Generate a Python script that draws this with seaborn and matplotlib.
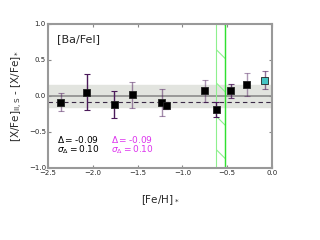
import numpy as np
import pandas as pd
import matplotlib
matplotlib.use('Agg')
import matplotlib.pyplot as plt
import seaborn as sns

sns.set_style('ticks')
plt.rcParams['font.family'] = ['DejaVu Sans']
plt.rcParams['hatch.color'] = '#7ee87e'
plt.rcParams['hatch.linewidth'] = 0.8

# data
feh = [-2.36, -2.07, -1.76, -1.56, -1.23, -1.18, -0.75, -0.62, -0.46, -0.28, -0.08]
dx = [-0.09, 0.05, -0.12, 0.02, -0.09, -0.13, 0.07, -0.19, 0.07, 0.16, 0.22]
err = [0.125, 0.25, 0.19, 0.18, 0.19, 0.05, 0.15, 0.10, 0.095, 0.155, 0.125]
err_alpha = [0.5, 1.0, 1.0, 0.5, 0.5, 0.9, 0.45, 1.0, 0.8, 0.45, 0.6]
kind = ['star'] * 10 + ['sun']

mean_d = -0.09
sigma_d = 0.10

df = pd.DataFrame({'feh': feh, 'dx': dx, 'err': err, 'kind': kind})

fig, ax = plt.subplots(figsize=(3.2, 2.4), dpi=100)
fig.subplots_adjust(left=0.15, right=0.85, top=0.9, bottom=0.3)

ax.axhspan(-0.15, 0.15, color='#e2e4df', zorder=0)
ax.axhline(0, color='#8c8c8c', lw=1.2, zorder=1)
ax.axhline(mean_d, color='#3a2a45', lw=0.8, ls=(0, (4, 3)), zorder=1)

ax.axvspan(-0.62, -0.52, facecolor='none', edgecolor='#8ef08e', hatch='\\', lw=0.8, zorder=1)
ax.axvline(-0.52, color='#30e030', lw=1.0, zorder=1)

for x, y, e, a in zip(feh, dx, err, err_alpha):
    ax.errorbar(x, y, yerr=e, fmt='none', ecolor='#4b1a5a', alpha=a,
                elinewidth=1.0, capsize=2, capthick=0.8, zorder=2)

sns.scatterplot(data=df, x='feh', y='dx', hue='kind', marker='s', s=25,
                palette={'star': 'black', 'sun': '#45c4c4'},
                edgecolor='#222222', linewidth=0.6, legend=False, zorder=3, ax=ax)

ax.set_xlim(-2.5, 0.0)
ax.set_ylim(-1.0, 1.0)
ax.set_xticks([-2.5, -2.0, -1.5, -1.0, -0.5, 0.0])
ax.set_yticks([-1.0, -0.5, 0.0, 0.5, 1.0])
ax.tick_params(direction='in', top=True, right=True, labelsize=5, length=2,
               color='#888888', width=0.8, pad=1.5)
for sp in ax.spines.values():
    sp.set_color('#999999')
    sp.set_linewidth(1.5)

ax.set_xlabel(r'[Fe/H]$_*$', fontsize=7.5, labelpad=12)
ax.set_ylabel(r'[X/Fe]$_{\rm II,S}$ - [X/Fe]$_*$', fontsize=7.5, labelpad=3)

ax.text(0.04, 0.93, '[Ba/FeI]', transform=ax.transAxes, fontsize=8, va='top')
ax.text(0.04, 0.2, r'$\Delta=$-0.09', transform=ax.transAxes, fontsize=6.5,
        color='black', va='center')
ax.text(0.04, 0.125, r'$\sigma_\Delta=$0.10', transform=ax.transAxes, fontsize=6.5,
        color='black', va='center')
ax.text(0.28, 0.2, r'$\Delta=$-0.09', transform=ax.transAxes, fontsize=6.5,
        color='#dd33ee', va='center')
ax.text(0.28, 0.125, r'$\sigma_\Delta=$0.10', transform=ax.transAxes, fontsize=6.5,
        color='#dd33ee', va='center')

fig.savefig('out.png', dpi=100)
